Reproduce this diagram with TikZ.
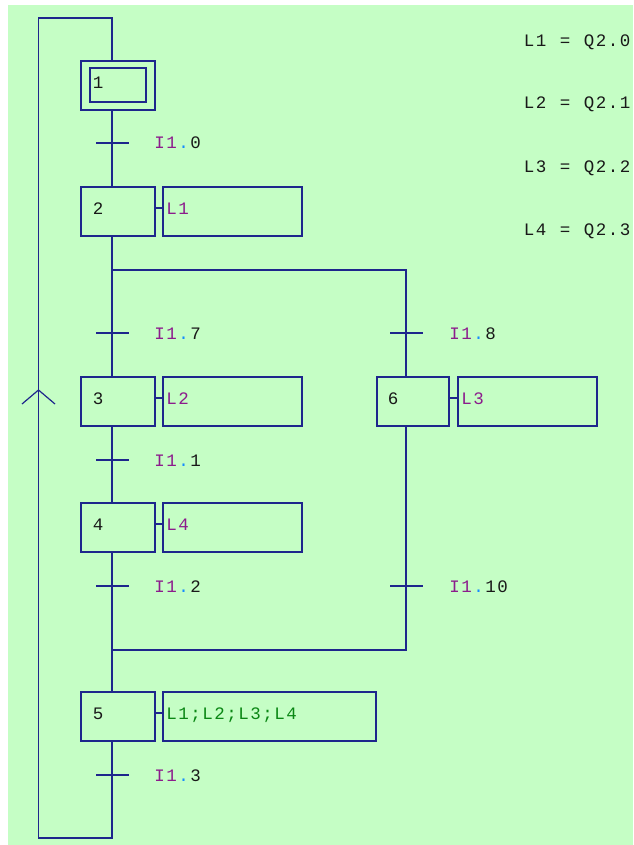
\documentclass[tikz,border=0pt]{standalone}
\usepackage{fontspec}
\setmainfont{Liberation Mono}
\definecolor{bg}{RGB}{197,254,197}
\definecolor{lc}{RGB}{30,38,140}
\definecolor{tp}{RGB}{140,28,140}
\definecolor{tb}{RGB}{20,140,255}
\definecolor{td}{RGB}{25,25,25}
\definecolor{tg}{RGB}{10,135,20}
\def\spc#1{\spcA#1\relax}
\def\spcA#1{\ifx#1\relax\else\makebox[12pt][c]{#1}\expandafter\spcA\fi}
\newcommand\trlab[1]{{\color{tp}\spc{I1}}{\color{tb}\spc{.}}{\color{td}\spc{#1}}}
\tikzset{
  ln/.style={draw=lc,line width=1.6pt},
  chev/.style={draw=lc,line width=1.2pt},
  box/.style={draw=lc,line width=1.6pt,inner sep=0pt,anchor=north west},
  stepbox/.style={box,minimum width=74pt,minimum height=49pt},
  actbox/.style={box,minimum width=139pt,minimum height=49pt},
  txt/.style={inner sep=0pt,anchor=west,text height=12pt,text depth=0pt,
    font=\fontsize{17.5pt}{19pt}\selectfont},
}
\begin{document}
\begin{tikzpicture}[x=1pt,y=-1pt]
\useasboundingbox (0,0) rectangle (633,845);
\fill[bg] (8,5) rectangle (633,845);
% reference coordinates
\coordinate (m) at (112,0);
\coordinate (r) at (406,0);
\coordinate (tl) at (112,18);
\coordinate (tll) at (38.5,18);
\coordinate (bll) at (38.5,838);
\coordinate (bl) at (112,838);
\coordinate (div) at (112,270);
\coordinate (conv) at (112,650);
\coordinate (apex) at (38.5,390);
% steps
\node[stepbox] (s1) at (80,60) {};
\node[box,minimum width=56pt,minimum height=34pt] (s1i) at (89,67) {};
\node[stepbox] (s2) at (80,186) {};
\node[stepbox] (s3) at (80,376) {};
\node[stepbox] (s4) at (80,502) {};
\node[stepbox] (s5) at (80,691) {};
\node[stepbox,minimum width=72pt] (s6) at (376,376) {};
% step numbers
\node[txt] (n1) at ([xshift=12pt,yshift=3pt]s1.west) {\color{td}\spc{1}};
\node[txt] (n2) at ([xshift=12pt,yshift=3pt]s2.west) {\color{td}\spc{2}};
\node[txt] (n3) at ([xshift=12pt,yshift=3pt]s3.west) {\color{td}\spc{3}};
\node[txt] (n4) at ([xshift=12pt,yshift=3pt]s4.west) {\color{td}\spc{4}};
\node[txt] (n5) at ([xshift=12pt,yshift=3pt]s5.west) {\color{td}\spc{5}};
\node[txt] (n6) at ([xshift=11pt,yshift=3pt]s6.west) {\color{td}\spc{6}};
% actions
\node[actbox] (a2) at (162,186) {};
\node[actbox] (a3) at (162,376) {};
\node[actbox] (a4) at (162,502) {};
\node[actbox,minimum width=213pt] (a5) at (162,691) {};
\node[actbox] (a6) at (457,376) {};
\node[txt] (l2) at ([xshift=3.4pt,yshift=3pt]a2.west) {\color{tp}\spc{L1}};
\node[txt] (l3) at ([xshift=3.4pt,yshift=3pt]a3.west) {\color{tp}\spc{L2}};
\node[txt] (l4) at ([xshift=3.4pt,yshift=3pt]a4.west) {\color{tp}\spc{L4}};
\node[txt] (l5) at ([xshift=3.4pt,yshift=3pt]a5.west) {\color{tg}\spc{L1;L2;L3;L4}};
\node[txt] (l6) at ([xshift=3.4pt,yshift=3pt]a6.west) {\color{tp}\spc{L3}};
\foreach \i in {2,3,4,5,6}{
  \draw[ln] ([yshift=3.5pt]s\i.east) -- ([yshift=3.5pt]a\i.west);
}
% transitions
\coordinate (t0) at (112,143);
\coordinate (t7) at (112,333);
\coordinate (t8) at (406,333);
\coordinate (t1) at (112,460);
\coordinate (t2) at (112,586);
\coordinate (t10) at (406,586);
\coordinate (t3) at (112,775);
\foreach \t in {t0,t7,t8,t1,t2,t10,t3}{
  \draw[ln] ([xshift=-16pt]\t) -- ([xshift=17pt]\t);
}
\node[txt] (k0) at ([xshift=41.5pt]t0) {\trlab{0}};
\node[txt] (k7) at ([xshift=41.5pt]t7) {\trlab{7}};
\node[txt] (k8) at ([xshift=42.5pt]t8) {\trlab{8}};
\node[txt] (k1) at ([xshift=41.5pt]t1) {\trlab{1}};
\node[txt] (k2) at ([xshift=41.5pt]t2) {\trlab{2}};
\node[txt] (k10) at ([xshift=42.5pt]t10) {\trlab{10}};
\node[txt] (k3) at ([xshift=41.5pt]t3) {\trlab{3}};
% links
\draw[ln] (m |- s1.north) -- (tl) -- (tll) -- (bll) -- (bl) -- (m |- s5.south);
\draw[ln] (m |- s1.south) -- (m |- s2.north);
\draw[ln] (m |- s2.south) -- (m |- s3.north);
\draw[ln] (div) -- (r |- div) -- (r |- s6.north);
\draw[ln] (m |- s3.south) -- (m |- s4.north);
\draw[ln] (m |- s4.south) -- (m |- s5.north);
\draw[ln] (r |- s6.south) -- (r |- conv) -- (conv);
\draw[chev] ([xshift=-16.5pt,yshift=-14pt]apex) -- (apex) -- ([xshift=16.5pt,yshift=-14pt]apex);
% legend
\node[txt] (e1) at (523,41) {\color{td}\spc{L1~=~Q2.0}};
\node[txt] (e2) at (523,103) {\color{td}\spc{L2~=~Q2.1}};
\node[txt] (e3) at (523,166) {\color{td}\spc{L3~=~Q2.2}};
\node[txt] (e4) at (523,229) {\color{td}\spc{L4~=~Q2.3}};
\end{tikzpicture}
\end{document}
